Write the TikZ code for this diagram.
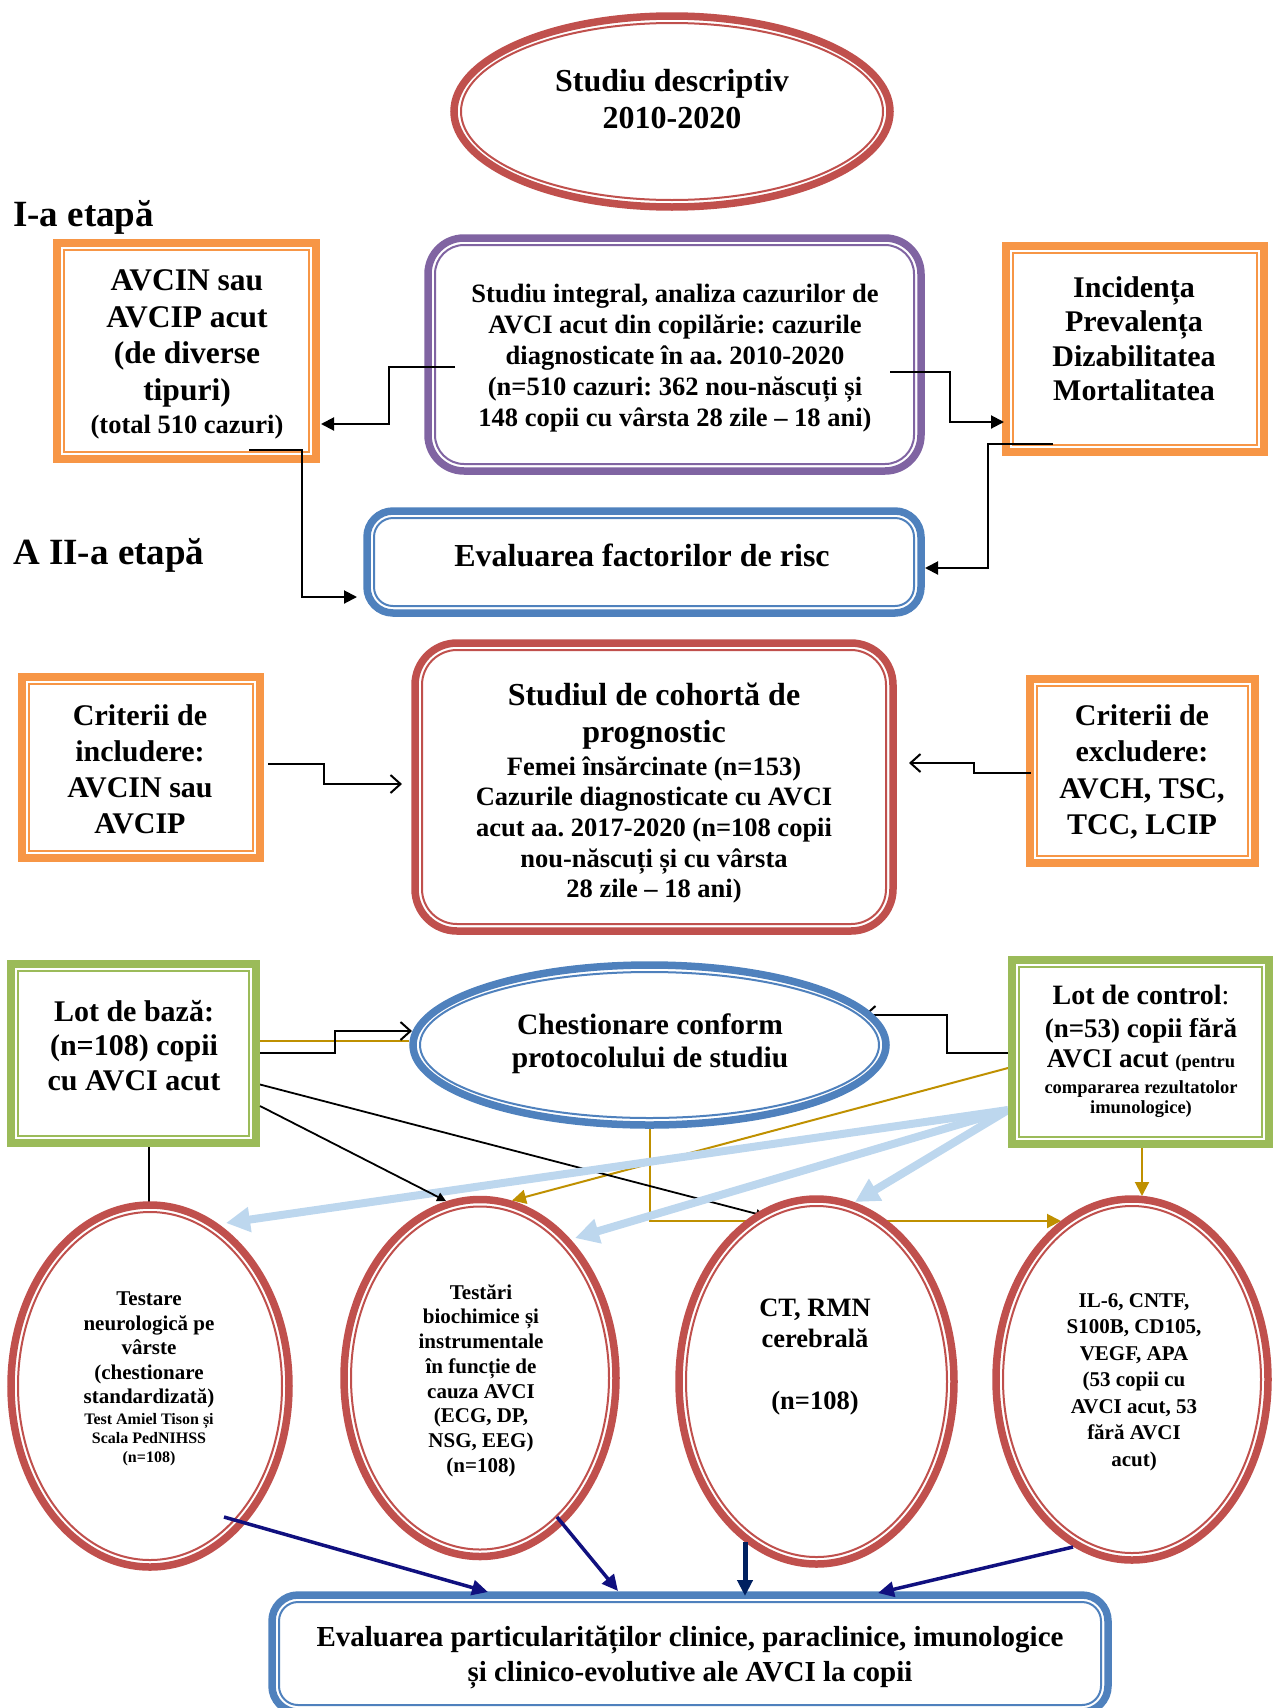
\documentclass[tikz,border=0pt]{standalone}
\usepackage{fontspec}
\setmainfont{Liberation Serif}
\usetikzlibrary{arrows.meta,calc,shapes.geometric}
\pgfdeclarelayer{bg}
\pgfsetlayers{bg,main}
\definecolor{cred}{HTML}{C0504D}
\definecolor{corange}{HTML}{F79646}
\definecolor{cpurple}{HTML}{8064A2}
\definecolor{cblue}{HTML}{4F81BD}
\definecolor{cgreen}{HTML}{9BBB59}
\definecolor{cgold}{HTML}{BF9000}
\definecolor{clb}{HTML}{BDD7EE}
\definecolor{cnavy}{HTML}{10107F}
\definecolor{cdnavy}{HTML}{002060}
\newcommand\myfs[2]{\fontsize{#1}{#2}\selectfont}
\tikzset{
 shp/.style={draw=#1, line width=7.5pt, fill=white, inner sep=0pt, outer sep=0pt},
 sq/.style={shp=#1, rectangle},
 rr/.style={shp=#1, rectangle, rounded corners=36pt},
 ov/.style={shp=#1, ellipse},
 inl/.style={draw=#1, line width=2pt},
 txt/.style={align=center, inner sep=0pt, text=black},
 con/.style={draw=black, line width=2pt},
 fa/.style={-{Triangle[length=13pt,width=13pt]}},
 oa/.style={-{Straight Barb[length=10pt,width=18pt]}},
 gl/.style={draw=cgold, line width=2pt},
 ga/.style={-{Triangle[length=14pt,width=14pt]}},
 lbarr/.style={draw=clb, line width=8pt, -{Triangle[length=24pt,width=24pt]}},
 nv/.style={draw=cnavy, line width=3.5pt, -{Triangle[length=16pt,width=15pt]}},
}
\begin{document}
\frenchspacing
\begin{tikzpicture}[x=1pt,y=-1pt]
\useasboundingbox (0,0) rectangle (1275,1708);
\clip (0,0) rectangle (1275,1708);
% ---------- shapes ----------
\node[ov=cred, minimum width=436pt, minimum height=191pt] (ttl) at (672,111.5) {};
\node[sq=corange, minimum width=259pt, minimum height=216pt] (avcin) at (186.5,351) {};
\node[rr=cpurple, minimum width=493pt, minimum height=233pt] (purp) at (674.5,354.5) {};
\node[sq=corange, minimum width=258pt, minimum height=206pt] (inc) at (1135,349) {};
\node[rr=cblue, rounded corners=26pt, minimum width=554pt, minimum height=102pt] (evf) at (644,562) {};
\node[rr=cred, rounded corners=42pt, minimum width=478pt, minimum height=288pt] (coh) at (654,787) {};
\node[sq=corange, minimum width=238pt, minimum height=181pt] (incl) at (141,767.5) {};
\node[sq=corange, minimum width=225pt, minimum height=184pt] (excl) at (1142.5,771) {};
\node[sq=cgreen, minimum width=245pt, minimum height=179pt] (baza) at (133.5,1053.5) {};
\node[ov=cblue, minimum width=473pt, minimum height=160pt] (chest) at (649.5,1045) {};
\node[sq=cgreen, minimum width=257pt, minimum height=184pt] (ctrl) at (1140.5,1052) {};
\node[ov=cred, minimum width=278pt, minimum height=362pt] (tst) at (150,1386) {};
\node[ov=cred, minimum width=272pt, minimum height=357pt] (tsti) at (480,1378) {};
\node[ov=cred, minimum width=275pt, minimum height=365pt] (ct) at (816.5,1381.5) {};
\node[ov=cred, minimum width=272pt, minimum height=361pt] (il) at (1132,1379.5) {};
\node[rr=cblue, rounded corners=26pt, minimum width=836pt, minimum height=117pt] (evp) at (690,1653.5) {};
% ---------- inner thin lines ----------
\draw[inl=cred] (ttl.center) ellipse [x radius=211pt, y radius=88.5pt];
\draw[inl=corange] ($(avcin.north west)+(7,7)$) rectangle ($(avcin.south east)+(-7,-7)$);
\draw[inl=cpurple, rounded corners=29pt] ($(purp.north west)+(7,7)$) rectangle ($(purp.south east)+(-7,-7)$);
\draw[inl=corange] ($(inc.north west)+(7,7)$) rectangle ($(inc.south east)+(-7,-7)$);
\draw[inl=cblue, rounded corners=19pt] ($(evf.north west)+(7,7)$) rectangle ($(evf.south east)+(-7,-7)$);
\draw[inl=cred, rounded corners=35pt] ($(coh.north west)+(7,7)$) rectangle ($(coh.south east)+(-7,-7)$);
\draw[inl=corange] ($(incl.north west)+(7,7)$) rectangle ($(incl.south east)+(-7,-7)$);
\draw[inl=corange] ($(excl.north west)+(7,7)$) rectangle ($(excl.south east)+(-7,-7)$);
\draw[inl=cgreen] ($(baza.north west)+(7,7)$) rectangle ($(baza.south east)+(-7,-7)$);
\draw[inl=cblue] (chest.center) ellipse [x radius=229.5pt, y radius=73pt];
\draw[inl=cgreen] ($(ctrl.north west)+(7,7)$) rectangle ($(ctrl.south east)+(-7,-7)$);
\draw[inl=cred] (tst.center) ellipse [x radius=132pt, y radius=174pt];
\draw[inl=cred] (tsti.center) ellipse [x radius=129pt, y radius=171.5pt];
\draw[inl=cred] (ct.center) ellipse [x radius=130.5pt, y radius=175.5pt];
\draw[inl=cred] (il.center) ellipse [x radius=129pt, y radius=173.5pt];
\draw[inl=cblue, rounded corners=19pt] ($(evp.north west)+(7,7)$) rectangle ($(evp.south east)+(-7,-7)$);
% ---------- texts ----------
\node[txt, font=\myfs{32}{37}\bfseries] (ttlt) at (672,99.5) {Studiu descriptiv\\2010-2020};
\node[txt, font=\myfs{37}{44}\bfseries, anchor=base west] (et1) at (13,226) {I-a etapă};
\node[txt, font=\myfs{37}{44}\bfseries, anchor=base west] (et2) at (13,564) {A II-a etapă};
\node[txt, font=\myfs{31.5}{36.5}\bfseries] (avcint) at (187,354.5) {AVCIN sau\\AVCIP acut\\(de diverse\\tipuri)\\[-3.5pt]{\myfs{26.5}{31}(total 510 cazuri)}};
\node[txt, font=\myfs{26.5}{31}\bfseries] (purpt) at (675,358.5) {Studiu integral, analiza cazurilor de\\AVCI acut din copilărie: cazurile\\diagnosticate în aa. 2010-2020\\(n=510 cazuri: 362 nou-născuți și\\148 copii cu vârsta 28 zile – 18 ani)};
\node[txt, font=\myfs{30}{34.5}\bfseries] (inct) at (1134,338.5) {Incidența\\Prevalența\\Dizabilitatea\\Mortalitatea};
\node[txt, font=\myfs{32}{37}\bfseries] (evft) at (642,555) {Evaluarea factorilor de risc};
\node[txt, font=\myfs{26.5}{30.7}\bfseries] (coht) at (654,793) {{\myfs{32}{37}Studiul de cohortă de}\\[6.3pt]{\myfs{32}{37}prognostic}\\[2.3pt]Femei însărcinate (n=153)\\Cazurile diagnosticate cu AVCI\\acut aa. 2017-2020 (n=108 copii\\nou-născuți și cu vârsta\\28 zile – 18 ani)};
\node[txt, font=\myfs{30}{36}\bfseries] (inclt) at (140,769) {Criterii de\\includere:\\AVCIN sau\\AVCIP};
\node[txt, font=\myfs{30}{36.5}\bfseries] (exclt) at (1142,772) {Criterii de\\excludere:\\AVCH, TSC,\\TCC, LCIP};
\node[txt, font=\myfs{30}{34.5}\bfseries] (bazat) at (134,1045.5) {Lot de bază:\\(n=108) copii\\cu AVCI acut};
\node[txt, font=\myfs{29.5}{33}\bfseries] (chestt) at (650,1044) {Chestionare conform\\protocolului de studiu};
\node[txt, font=\myfs{27}{33}\bfseries] (ctrlt) at (1141,1051.5) {{\myfs{28}{33}Lot de control{\mdseries:}}\\(n=53) copii fără\\[-3pt]AVCI acut {\myfs{18.5}{21}(pentru}\\[-7pt]{\myfs{18.5}{21}compararea rezultatolor}\\[-13pt]{\myfs{18.5}{21}imunologice)}};
\node[txt, font=\myfs{21}{24.5}\bfseries] (tstt) at (149,1379) {Testare\\neurologică pe\\vârste\\(chestionare\\standardizată)\\[-3.5pt]{\myfs{16}{19}Test Amiel Tison și}\\[-5.5pt]{\myfs{16}{19}Scala PedNIHSS}\\[-5.5pt]{\myfs{16}{19}(n=108)}};
\node[txt, font=\myfs{21}{24.7}\bfseries] (tstit) at (481,1380.5) {Testări\\biochimice și\\instrumentale\\în funcție de\\cauza AVCI\\(ECG, DP,\\NSG, EEG)\\(n=108)};
\node[txt, font=\myfs{26.5}{31}\bfseries] (ctt) at (815,1357) {CT, RMN\\cerebrală\\[31pt](n=108)};
\node[txt, font=\myfs{21}{26.5}\bfseries] (ilt) at (1134,1382) {IL-6, CNTF,\\S100B, CD105,\\VEGF, APA\\(53 copii cu\\AVCI acut, 53\\fără AVCI\\acut)};
\node[txt, font=\myfs{29}{35}\bfseries] (evpt) at (690,1657.5) {Evaluarea particularităților clinice, paraclinice, imunologice\\și clinico-evolutive ale AVCI la copii};
% ---------- connectors under the shapes ----------
\begin{pgfonlayer}{bg}
\draw[gl] ($(baza.east)+(4,-12.5)$) -- ($(chest.west)+(-4,-4)$);
\draw[con, oa] ($(baza.east)+(4,-0.5)$) -| ($(chest.west)+(-78,-14)$) -- ($(chest.west)+(-1,-14)$);
\draw[con, oa] ($(ctrl.west)+(-4,1)$) -| ($(chest.east)+(60.5,-30)$) -- ($(chest.east)+(-22,-30)$);
\draw[gl, ga] (chest.south) |- ($(il.north)+(-71,22)$);
\draw[gl, ga] ($(ctrl.west)+(-4,16)$) -- ($(tsti.north)+(32,1)$);
\draw[gl, ga] ($(ctrl.south)+(1.5,4)$) -- ($(il.north)+(10,-3)$);
\draw[con, line width=1.8pt, -{Triangle[length=9pt,width=9pt]}] ($(baza.east)+(4,31)$) -- ($(ct.north)+(-51.5,17)$);
\draw[con, line width=1.5pt] ($(baza.south)+(15.5,4)$) -- ($(tst.north)+(-1,-3)$);
\draw[lbarr] ($(ctrl.west)+(-4,58)$) -- ($(tst.north)+(76,18)$);
\draw[lbarr] ($(ctrl.west)+(-4,58)$) -- ($(tsti.north)+(95,38.5)$);
\draw[lbarr] ($(ctrl.west)+(-4,58)$) -- ($(ct.north)+(38.5,3)$);
\end{pgfonlayer}
% ---------- connectors over the shapes ----------
\draw[con, line width=1.8pt, -{Triangle[length=9pt,width=9pt]}] ($(baza.east)+(4,52.5)$) -- ($(tsti.north)+(-34,1.5)$);
\draw[con, fa] ($(purp.west)+(27,12.5)$) -| ($(avcin.east)+(73,73)$) -- ($(avcin.east)+(5,73)$);
\draw[con, fa] ($(purp.east)+(-31,17.5)$) -| ($(inc.west)+(-56,73)$) -- ($(inc.west)+(-2,73)$);
\draw[con, fa] ($(avcin.south)+(62.5,-9)$) -| ($(evf.west)+(-65,35)$) -- ($(evf.west)+(-10,35)$);
\draw[con, fa] ($(inc.south)+(-82,-8)$) -| ($(evf.east)+(67,6)$) -- ($(evf.east)+(4,6)$);
\draw[con, oa] ($(incl.east)+(8,-3.5)$) -| ($(coh.west)+(-91,-3)$) -- ($(coh.west)+(-13,-3)$);
\draw[con, oa] ($(excl.west)+(1,2)$) -| ($(coh.east)+(81,-24)$) -- ($(coh.east)+(16,-24)$);
\draw[nv] ($(tst.south)+(74,-50)$) -- ($(evp.north)+(-202,-3)$);
\draw[nv] ($(tsti.south)+(77,-39.5)$) -- ($(evp.north)+(-72,-4)$);
\draw[nv, draw=cdnavy, line width=5pt] ($(ct.south)+(-71.5,-22)$) -- ($(evp.north)+(55,1)$);
\draw[nv] ($(il.south)+(-59,-13)$) -- ($(evp.north)+(188,-2)$);
\end{tikzpicture}
\end{document}
